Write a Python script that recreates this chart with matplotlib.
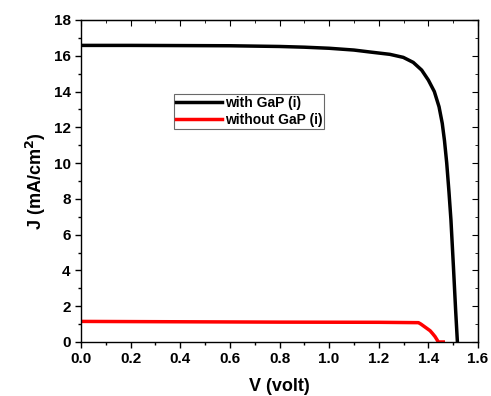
import matplotlib.pyplot as plt
from matplotlib.ticker import MultipleLocator

plt.rcParams['font.family'] = ['Liberation Sans', 'DejaVu Sans']
plt.rcParams['font.weight'] = 'bold'

# with GaP (i)
v_gap = [0.0, 0.2, 0.4, 0.6, 0.8, 0.9, 1.0, 1.1, 1.165, 1.245, 1.299, 1.339,
         1.373, 1.400, 1.424, 1.443, 1.456, 1.465, 1.474, 1.483, 1.491, 1.501,
         1.510, 1.517]
j_gap = [16.58, 16.58, 16.57, 16.56, 16.52, 16.48, 16.42, 16.32, 16.21, 16.08,
         15.91, 15.63, 15.20, 14.64, 14.00, 13.15, 12.22, 11.25, 10.0, 8.40,
         6.82, 4.21, 1.75, 0.0]

# without GaP (i)
v_nogap = [0.0, 0.4, 0.8, 1.2, 1.36, 1.37, 1.38, 1.39, 1.407, 1.417, 1.427,
           1.435, 1.44, 1.46]
j_nogap = [1.15, 1.13, 1.11, 1.10, 1.08, 1.00, 0.90, 0.80, 0.63, 0.47, 0.30,
           0.12, 0.0, 0.0]

fig = plt.figure(figsize=(4.91, 3.96), dpi=100)
ax = fig.add_axes([0.165, 0.1364, 0.8085, 0.8131])

ax.plot(v_gap, j_gap, color='black', lw=2.5, label='with GaP (i)')
ax.plot(v_nogap, j_nogap, color='#ff0000', lw=2.5, label='without GaP (i)')

ax.set_xlim(0, 1.6)
ax.set_ylim(0, 18)
ax.xaxis.set_major_locator(MultipleLocator(0.2))
ax.xaxis.set_minor_locator(MultipleLocator(0.1))
ax.yaxis.set_major_locator(MultipleLocator(2))
ax.yaxis.set_minor_locator(MultipleLocator(1))
ax.tick_params(which='both', direction='out', top=False, right=False,
               labelsize=11, width=1)
ax.tick_params(which='major', length=4)
ax.tick_params(which='minor', length=2)
for s in ax.spines.values():
    s.set_linewidth(1)

# inward ticks on top and right, as in the original
sec_x = ax.secondary_xaxis('top')
sec_x.xaxis.set_major_locator(MultipleLocator(0.2))
sec_x.xaxis.set_minor_locator(MultipleLocator(0.1))
sec_x.tick_params(which='both', direction='in', labeltop=False)
sec_x.tick_params(which='major', length=4)
sec_x.tick_params(which='minor', length=2)
sec_y = ax.secondary_yaxis('right')
sec_y.yaxis.set_major_locator(MultipleLocator(2))
sec_y.yaxis.set_minor_locator(MultipleLocator(1))
sec_y.tick_params(which='both', direction='in', labelright=False)
sec_y.tick_params(which='major', length=4)
sec_y.tick_params(which='minor', length=2)

ax.set_xlabel('V (volt)', fontsize=13, fontweight='bold', labelpad=8)
ax.set_ylabel('J (mA/cm$^\\mathbf{2}$)', fontsize=13, fontweight='bold', labelpad=4)

leg = ax.legend(loc='upper left', bbox_to_anchor=(0.234, 0.77), fontsize=10,
                frameon=True, fancybox=False, handlelength=3.3, handletextpad=0.2,
                borderpad=0.15, labelspacing=0.2, borderaxespad=0)
leg.get_frame().set_edgecolor('#444444')
leg.get_frame().set_linewidth(0.8)

fig.savefig('out.png', dpi=100)
